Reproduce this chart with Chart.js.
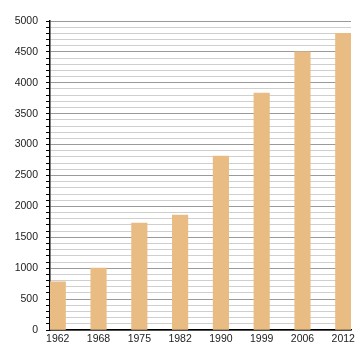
<!DOCTYPE html>
<html>
<head>
<meta charset="utf-8">
<script src="https://cdn.jsdelivr.net/npm/chart.js@4/dist/chart.umd.min.js"></script>
<style>
  html, body { margin: 0; padding: 0; background: #fff; }
  #wrap { width: 360px; height: 360px; }
</style>
</head>
<body>
<div id="wrap"><canvas id="myChart"></canvas></div>
<script>
const years = ["1962", "1968", "1975", "1982", "1990", "1999", "2006", "2012"];
const population = [780, 1000, 1730, 1860, 2815, 3835, 4500, 4800];
const yTicks = [0, 500, 1000, 1500, 2000, 2500, 3000, 3500, 4000, 4500, 5000];

const points = years.map((y, i) => ({ x: i, y: population[i] }));

Chart.defaults.font.family = "'Liberation Sans', Arial, sans-serif";
Chart.defaults.font.size = 10.5;
Chart.defaults.color = "#222";

new Chart(document.getElementById("myChart").getContext("2d"), {
  type: "bar",
  data: {
    datasets: [
      {
        data: points,
        backgroundColor: "#e8bc82",
        borderWidth: 0,
        barThickness: 15.5,
      },
    ],
  },
  options: {
    responsive: true,
    maintainAspectRatio: false,
    animation: false,
    layout: { padding: { top: 21, right: 9, left: 0, bottom: 0 } },
    plugins: { legend: { display: false }, tooltip: { enabled: false } },
    scales: {
      x: {
        type: "linear",
        offset: false,
        min: -0.19,
        max: years.length - 1 + 0.19,
        grid: { display: false, offset: false, drawTicks: false },
        border: { display: true, color: "#000", width: 1.5 },
        afterFit: (s) => { s.height = 30; },
        afterBuildTicks: (s) => { s.ticks = years.map((_, i) => ({ value: i })); },
        ticks: {
          autoSkip: false,
          maxRotation: 0,
          padding: 3,
          callback: (v) => years[v] ?? "",
        },
      },
      y: {
        min: 0,
        max: 5000,
        afterFit: (s) => { s.width = 50; },
        border: { display: true, color: "#000", width: 1.5 },
        grid: {
          color: (c) => (yTicks.includes(c.tick.value) ? "#9a9a9a" : "#cfcfcf"),
          tickColor: "#000",
          tickLength: 4,
          lineWidth: 1,
        },
        ticks: {
          stepSize: 100,
          autoSkip: false,
          maxTicksLimit: 100,
          padding: 8,
          callback: (v) => (yTicks.includes(v) ? String(v) : ""),
        },
      },
    },
  },
});
</script>
</body>
</html>
